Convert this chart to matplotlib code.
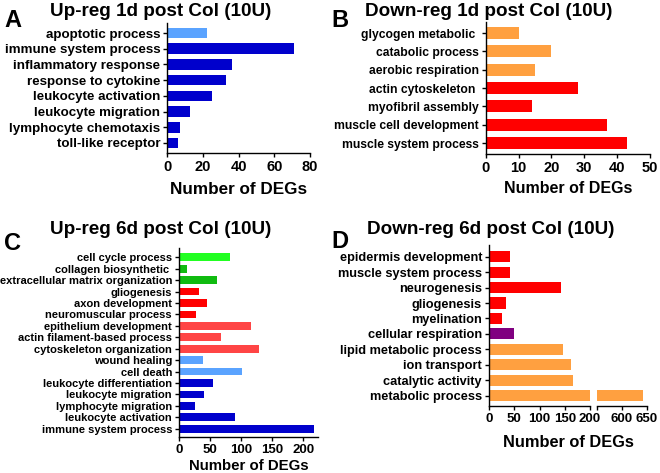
import numpy as np
import matplotlib
matplotlib.use('Agg')
import matplotlib.pyplot as plt

plt.rcParams['font.family'] = ['Liberation Sans', 'DejaVu Sans']
plt.rcParams['font.weight'] = 'bold'
plt.rcParams['axes.linewidth'] = 1.0

# colours
dblue = '#0000CC'
lblue = '#5AA3FF'
red = '#FF0000'
lred = '#FF4545'
orange = '#FFA040'
green = '#22FF22'
dgreen = '#10BB10'
purple = '#800080'

# panel A
a_terms = ['apoptotic process', 'immune system process', 'inflammatory response',
           'response to cytokine', 'leukocyte activation', 'leukocyte migration',
           'lymphocyte chemotaxis', 'toll-like receptor']
a_vals = [22, 71, 36, 33, 25, 13, 7, 6]
a_cols = [lblue] + [dblue] * 7

# panel B
b_terms = ['glycogen metabolic ', 'catabolic process', 'aerobic respiration',
           'actin cytoskeleton ', 'myofibril assembly', 'muscle cell development',
           'muscle system process']
b_vals = [10, 20, 15, 28, 14, 37, 43]
b_cols = [orange] * 3 + [red] * 4

# panel C
c_terms = ['cell cycle process', 'collagen biosynthetic ', 'extracellular matrix organization',
           'gliogenesis', 'axon development', 'neuromuscular process',
           'epithelium development', 'actin filament-based process', 'cytoskeleton organization',
           'wound healing', 'cell death', 'leukocyte differentiation', 'leukocyte migration',
           'lymphocyte migration', 'leukocyte activation', 'immune system process']
c_vals = [82, 13, 61, 33, 45, 28, 116, 68, 129, 39, 101, 54, 41, 25, 91, 217]
c_cols = [green, dgreen, dgreen, red, red, red, lred, lred, lred, lblue, lblue,
          dblue, dblue, dblue, dblue, dblue]

# panel D
d_terms = ['epidermis development', 'muscle system process', 'neurogenesis', 'gliogenesis',
           'myelination', 'cellular respiration', 'lipid metabolic process', 'ion transport',
           'catalytic activity', 'metabolic process']
d_vals = [42, 42, 143, 34, 26, 50, 146, 163, 167, 643]
d_cols = [red] * 5 + [purple] + [orange] * 4

W, H = 660, 473
fig = plt.figure(figsize=(W / 100, H / 100), dpi=100)


def rect(l, r, t, b):
    return [l / W, 1 - b / H, (r - l) / W, (b - t) / H]


def style(ax, tick_fs):
    ax.spines['top'].set_visible(False)
    ax.spines['right'].set_visible(False)
    ax.tick_params(axis='both', direction='out', length=3, width=1.0, pad=2)
    ax.tick_params(axis='x', labelsize=tick_fs)


def hbars(ax, terms, vals, cols, h, top_m, bot_m, label_fs):
    y = np.arange(len(terms))
    ax.barh(y, vals, color=cols, height=h)
    ax.set_yticks(y)
    ax.set_yticklabels(terms, fontsize=label_fs)
    ax.set_ylim(len(terms) - 1 + bot_m, -top_m)


# A
axA = fig.add_axes(rect(167.3, 310, 23, 153))
hbars(axA, a_terms, a_vals, a_cols, 0.68, 0.64, 0.64, 9.6)
axA.set_xlim(0, 80)
axA.set_xticks([0, 20, 40, 60, 80])
style(axA, 10.5)

# B
axB = fig.add_axes(rect(485.7, 650, 22, 154))
hbars(axB, b_terms, b_vals, b_cols, 0.67, 0.6, 0.6, 8.7)
axB.set_xlim(0, 50)
axB.set_xticks([0, 10, 20, 30, 40, 50])
style(axB, 10.5)

# C
axC = fig.add_axes(rect(179, 318, 248, 436.7))
hbars(axC, c_terms, c_vals, c_cols, 0.67, 0.81, 0.7, 8)
axC.set_xlim(0, 224)
axC.set_xticks([0, 50, 100, 150, 200])
style(axC, 9.5)

# D (broken x axis)
axD1 = fig.add_axes(rect(489, 590, 245, 405.7))
hbars(axD1, d_terms, d_vals, d_cols, 0.72, 0.76, 0.65, 9.2)
axD1.set_xlim(0, 200)
axD1.set_xticks([0, 50, 100, 150, 200])
style(axD1, 9.5)

axD2 = fig.add_axes(rect(596.7, 646.7, 245, 405.7))
yd = np.arange(len(d_terms))
axD2.barh(yd, d_vals, color=d_cols, height=0.72)
axD2.set_ylim(len(d_terms) - 1 + 0.65, -0.76)
axD2.set_xlim(550, 650)
axD2.set_xticks([550, 600, 650])
axD2.set_xticklabels(['', '600', '650'])
style(axD2, 9.5)
axD2.spines['left'].set_visible(False)
axD2.set_yticks([])

# x labels
for x, y, fs in [(238.5, 189, 12.3), (568, 188, 11.5), (248.5, 466, 10.8), (568, 442, 11.8)]:
    fig.text(x / W, 1 - y / H, 'Number of DEGs', ha='center', va='center',
             fontsize=fs, fontweight='bold')

# titles
titles = [('Up-reg 1d post Col (10U)', 161, 11), ('Down-reg 1d post Col (10U)', 489, 11),
          ('Up-reg 6d post Col (10U)', 161, 229), ('Down-reg 6d post Col (10U)', 491, 229)]
for t, x, y in titles:
    fig.text(x / W, 1 - y / H, t, ha='center', va='center', fontsize=13.6, fontweight='bold')

# panel letters
for letter, x, y in [('A', 12.5, 20.5), ('B', 340, 20.5), ('C', 12.5, 244), ('D', 340, 241)]:
    fig.text(x / W, 1 - y / H, letter, ha='center', va='center', fontsize=17, fontweight='bold')

fig.savefig('out.png', dpi=100)
